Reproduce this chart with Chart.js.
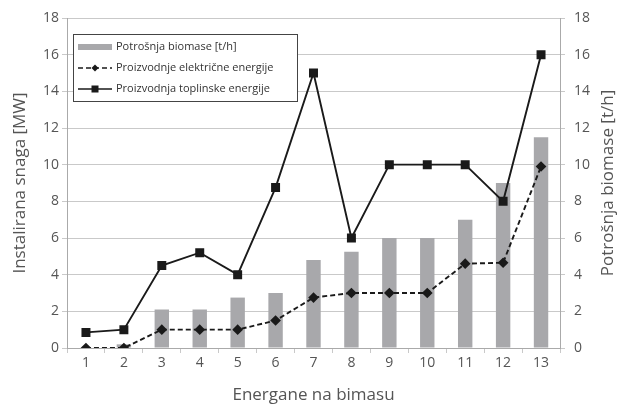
<!DOCTYPE html>
<html>
<head>
<meta charset="utf-8">
<script src="https://cdn.jsdelivr.net/npm/chart.js@4"></script>
<style>
  html, body { margin: 0; padding: 0; background: #fff; }
  #wrap { width: 618px; height: 404px; }
</style>
</head>
<body>
<div id="wrap"><canvas id="chart"></canvas></div>
<script>
// --- Data ---
const categories = ['1', '2', '3', '4', '5', '6', '7', '8', '9', '10', '11', '12', '13'];
const biomasa = [0, 0.2, 2.1, 2.1, 2.75, 3.0, 4.8, 5.25, 6, 6, 7, 9, 11.5];
const elektricna = [0, 0, 1, 1, 1, 1.5, 2.75, 3, 3, 3, 4.6, 4.65, 9.9];
const toplinska = [0.85, 1.0, 4.5, 5.2, 4.0, 8.75, 15, 6, 10, 10, 10, 8, 16];
const yTicks = [0, 2, 4, 6, 8, 10, 12, 14, 16, 18];
const leftTitle = 'Instalirana snaga [MW]';
const rightTitle = 'Potrošnja biomase [t/h]';

const textColor = '#555';
const gridColor = '#c9c9c9';
const fontFamily = 'Open Sans, Noto Sans, sans-serif';

// both y titles read bottom-to-top, as in the original
const sideTitles = {
    id: 'sideTitles',
    afterDraw(chart) {
        const ctx = chart.ctx;
        const area = chart.chartArea;
        const cy = (area.top + area.bottom) / 2;
        ctx.save();
        ctx.font = '17px ' + fontFamily;
        ctx.fillStyle = textColor;
        ctx.textAlign = 'center';
        ctx.textBaseline = 'middle';
        [[20, leftTitle], [chart.width - 10, rightTitle]].forEach(([x, t]) => {
            ctx.save();
            ctx.translate(x, cy);
            ctx.rotate(-Math.PI / 2);
            ctx.fillText(t, 0, 0);
            ctx.restore();
        });
        ctx.restore();
    }
};

// legend drawn inside the plot, top-left, white box over the grid
const boxLegend = {
    id: 'boxLegend',
    afterDatasetsDraw(chart) {
        const ctx = chart.ctx;
        const area = chart.chartArea;
        const x = area.left + 6, y = area.top + 16, w = 224, h = 67;
        ctx.save();
        ctx.fillStyle = '#fff';
        ctx.fillRect(x, y, w, h);
        ctx.strokeStyle = '#444';
        ctx.lineWidth = 1;
        ctx.strokeRect(x + 0.5, y + 0.5, w, h);

        ctx.font = '11px ' + fontFamily;
        ctx.textBaseline = 'middle';
        const rows = [y + 13, y + 34, y + 55];
        chart.data.datasets.forEach((ds, i) => {
            const cy = rows[i];
            const lx = x + 5, rx = x + 39;
            if (ds.type === 'bar') {
                ctx.fillStyle = ds.backgroundColor;
                ctx.fillRect(lx, cy - 3, rx - lx, 6);
            } else {
                ctx.strokeStyle = ds.borderColor;
                ctx.lineWidth = 1.6;
                ctx.setLineDash(ds.borderDash || []);
                ctx.beginPath();
                ctx.moveTo(lx, cy);
                ctx.lineTo(rx, cy);
                ctx.stroke();
                ctx.setLineDash([]);
                ctx.fillStyle = ds.pointBackgroundColor;
                const mx = (lx + rx) / 2;
                if (ds.pointStyle === 'rect') {
                    ctx.fillRect(mx - 3.5, cy - 3.5, 7, 7);
                } else {
                    ctx.beginPath();
                    ctx.moveTo(mx, cy - 3.5);
                    ctx.lineTo(mx + 3.5, cy);
                    ctx.lineTo(mx, cy + 3.5);
                    ctx.lineTo(mx - 3.5, cy);
                    ctx.closePath();
                    ctx.fill();
                }
            }
            ctx.fillStyle = '#333';
            ctx.fillText(ds.label, rx + 4, cy);
        });
        ctx.restore();
    }
};

const ctx = document.getElementById('chart').getContext('2d');
new Chart(ctx, {
    data: {
        labels: categories,
        datasets: [
            {
                type: 'bar', label: 'Potrošnja biomase [t/h]', data: biomasa,
                backgroundColor: '#a8a8ab', yAxisID: 'y1', order: 3,
                barPercentage: 0.38, categoryPercentage: 1.0
            },
            {
                type: 'line', label: 'Proizvodnje električne energije', data: elektricna,
                borderColor: '#1a1a1a', borderWidth: 1.9, borderDash: [5, 3],
                pointStyle: 'rectRot', pointRadius: 4, pointBackgroundColor: '#1a1a1a',
                pointBorderColor: '#1a1a1a', yAxisID: 'y', order: 1, tension: 0
            },
            {
                type: 'line', label: 'Proizvodnja toplinske energije', data: toplinska,
                borderColor: '#1a1a1a', borderWidth: 1.9,
                pointStyle: 'rect', pointRadius: 5, pointBackgroundColor: '#1a1a1a',
                pointBorderColor: '#1a1a1a', yAxisID: 'y', order: 2, tension: 0
            }
        ]
    },
    options: {
        responsive: true, maintainAspectRatio: false, animation: false,
        layout: { padding: { top: 18, left: 0, right: 0, bottom: 0 } },
        plugins: { legend: { display: false }, tooltip: { enabled: false } },
        scales: {
            x: {
                offset: true,
                grid: { offset: true, drawOnChartArea: false, drawTicks: true, tickLength: 5, color: gridColor },
                border: { color: '#aaa' },
                ticks: { color: textColor, font: { family: fontFamily, size: 14 }, padding: 2 },
                title: { display: true, text: 'Energane na bimasu', color: textColor, font: { family: fontFamily, size: 17 }, padding: { top: 0, bottom: -1 } },
                afterFit: s => { s.height = 56; }
            },
            y: {
                position: 'left', min: 0, max: 18,
                afterBuildTicks: s => { s.ticks = yTicks.map(v => ({ value: v })); },
                grid: { color: gridColor, tickLength: 5 },
                border: { color: '#aaa' },
                ticks: { color: textColor, font: { family: fontFamily, size: 14 }, padding: 3 },
                afterFit: s => { s.width = 67; }
            },
            y1: {
                position: 'right', min: 0, max: 18,
                afterBuildTicks: s => { s.ticks = yTicks.map(v => ({ value: v })); },
                grid: { drawOnChartArea: false, color: gridColor, tickLength: 5 },
                border: { color: '#aaa' },
                ticks: { color: textColor, font: { family: fontFamily, size: 14 }, padding: 9 },
                afterFit: s => { s.width = 58; }
            }
        }
    },
    plugins: [boxLegend, sideTitles]
});
</script>
</body>
</html>
